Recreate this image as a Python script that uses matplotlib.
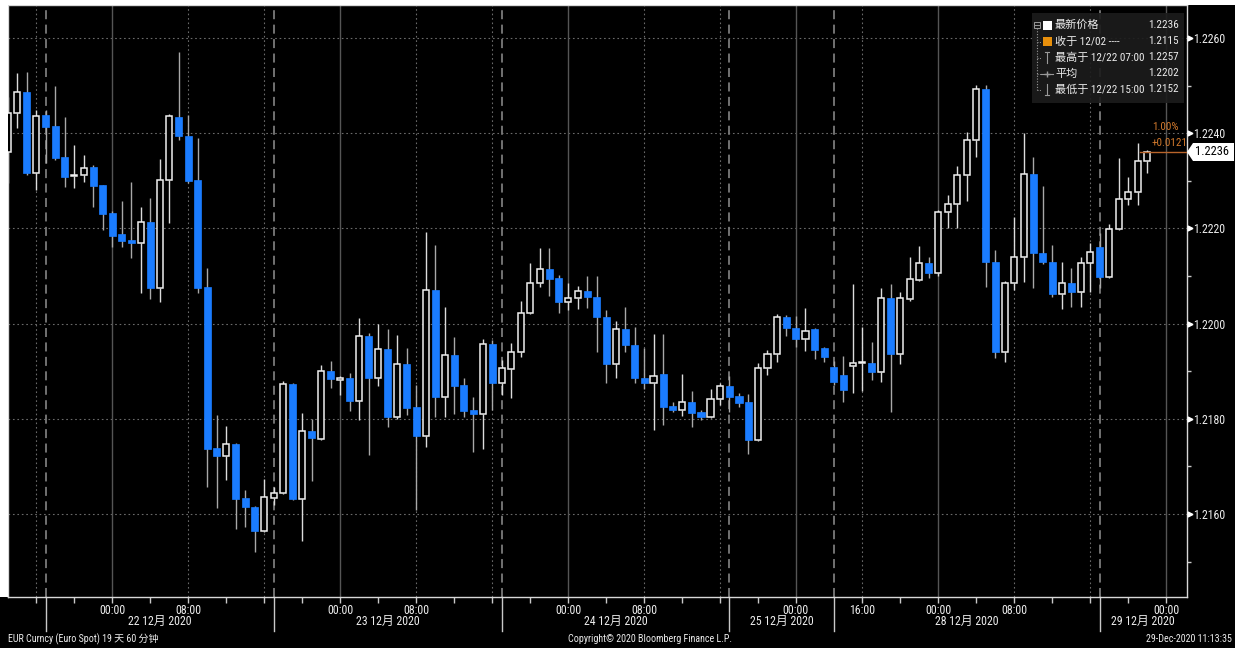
import matplotlib
matplotlib.use('Agg')
import matplotlib.pyplot as plt
import matplotlib.transforms as mtransforms
from matplotlib import font_manager
from matplotlib.patches import Rectangle, Polygon
from matplotlib.lines import Line2D

# ---------------- data (hourly EUR spot candles) ----------------
opens = [1.22361, 1.22443, 1.22487, 1.22316, 1.22439, 1.22415, 1.22350, 1.22310, 1.22312, 1.22329,
         1.22292, 1.22233, 1.22189, 1.22176, 1.22170, 1.22214, 1.22075, 1.22302, 1.22434, 1.22394,
         1.22302, 1.22077, 1.21739, 1.21722, 1.21748, 1.21634, 1.21615, 1.21565, 1.21634, 1.21645,
         1.21874, 1.21632, 1.21775, 1.21758, 1.21901, 1.21882, 1.21886, 1.21838, 1.21974, 1.21886,
         1.21947, 1.21804, 1.21916, 1.21825, 1.21764, 1.22071, 1.21846, 1.21935, 1.21872, 1.21819,
         1.21811, 1.21958, 1.21876, 1.21905, 1.21941, 1.22023, 1.22086, 1.22115, 1.22096, 1.22046,
         1.22054, 1.22069, 1.22056, 1.22014, 1.21916, 1.21989, 1.21956, 1.21886, 1.21876, 1.21895,
         1.21827, 1.21819, 1.21836, 1.21815, 1.21804, 1.21842, 1.21869, 1.21848, 1.21836, 1.21756,
         1.21907, 1.21937, 1.22014, 1.21991, 1.21968, 1.21989, 1.21949, 1.21909, 1.21893, 1.21911,
         1.21918, 1.21918, 1.21899, 1.22054, 1.21937, 1.22052, 1.22092, 1.22128, 1.22107, 1.22235,
         1.22252, 1.22312, 1.22386, 1.22493, 1.22130, 1.21941, 1.22086, 1.22140, 1.22314, 1.22149,
         1.22130, 1.22063, 1.22086, 1.22067, 1.22128, 1.22161, 1.22098, 1.22199, 1.22262, 1.22277,
         1.22342]
highs = [1.22476, 1.22527, 1.22529, 1.22449, 1.22449, 1.22499, 1.22434, 1.22376, 1.22355, 1.22334,
         1.22292, 1.22237, 1.22258, 1.22298, 1.22245, 1.22264, 1.22346, 1.22441, 1.22570, 1.22439,
         1.22390, 1.22117, 1.21809, 1.21785, 1.21750, 1.21651, 1.21617, 1.21674, 1.21657, 1.21880,
         1.21876, 1.21813, 1.21800, 1.21913, 1.21922, 1.21890, 1.21897, 1.22012, 1.21981, 1.21999,
         1.21989, 1.21977, 1.21949, 1.21872, 1.22193, 1.22166, 1.22035, 1.21972, 1.21886, 1.21846,
         1.21968, 1.21966, 1.21924, 1.21960, 1.22048, 1.22128, 1.22159, 1.22159, 1.22103, 1.22086,
         1.22079, 1.22100, 1.22100, 1.22029, 1.22006, 1.22035, 1.21993, 1.21949, 1.21979, 1.21979,
         1.21836, 1.21895, 1.21859, 1.21819, 1.21863, 1.21876, 1.21890, 1.21855, 1.21853, 1.21918,
         1.21945, 1.22021, 1.22019, 1.22016, 1.22033, 1.21991, 1.21951, 1.21922, 1.21932, 1.22084,
         1.21993, 1.21962, 1.22075, 1.22084, 1.22067, 1.22140, 1.22163, 1.22140, 1.22239, 1.22270,
         1.22331, 1.22403, 1.22502, 1.22502, 1.22155, 1.22090, 1.22224, 1.22401, 1.22350, 1.22289,
         1.22166, 1.22130, 1.22117, 1.22140, 1.22170, 1.22191, 1.22210, 1.22348, 1.22308, 1.22380,
         1.22365]
lows = [1.22296, 1.22411, 1.22312, 1.22281, 1.22338, 1.22344, 1.22287, 1.22285, 1.22298, 1.22245,
        1.22197, 1.22161, 1.22161, 1.22138, 1.22065, 1.22052, 1.22046, 1.22212, 1.22386, 1.22296,
        1.22065, 1.21657, 1.21613, 1.21672, 1.21569, 1.21573, 1.21520, 1.21563, 1.21619, 1.21643,
        1.21630, 1.21544, 1.21670, 1.21756, 1.21865, 1.21851, 1.21817, 1.21798, 1.21725, 1.21869,
        1.21783, 1.21800, 1.21809, 1.21609, 1.21741, 1.21804, 1.21804, 1.21811, 1.21804, 1.21731,
        1.21737, 1.21819, 1.21851, 1.21844, 1.21930, 1.22021, 1.22077, 1.22058, 1.22023, 1.22029,
        1.22031, 1.22033, 1.21941, 1.21876, 1.21886, 1.21941, 1.21876, 1.21863, 1.21777, 1.21788,
        1.21815, 1.21806, 1.21783, 1.21798, 1.21802, 1.21830, 1.21815, 1.21825, 1.21727, 1.21754,
        1.21893, 1.21920, 1.21974, 1.21951, 1.21943, 1.21926, 1.21920, 1.21872, 1.21836, 1.21855,
        1.21859, 1.21882, 1.21878, 1.21815, 1.21916, 1.22048, 1.22090, 1.22096, 1.22100, 1.22201,
        1.22201, 1.22258, 1.22350, 1.22077, 1.21928, 1.21920, 1.22071, 1.22088, 1.22075, 1.22126,
        1.22056, 1.22031, 1.22035, 1.22035, 1.22067, 1.22075, 1.22096, 1.22197, 1.22250, 1.22250,
        1.22316]
closes = [1.22443, 1.22487, 1.22316, 1.22436, 1.22413, 1.22348, 1.22308, 1.22312, 1.22327, 1.22289,
          1.22231, 1.22184, 1.22174, 1.22170, 1.22214, 1.22075, 1.22302, 1.22436, 1.22394, 1.22300,
          1.22075, 1.21737, 1.21722, 1.21748, 1.21632, 1.21615, 1.21565, 1.21636, 1.21645, 1.21874,
          1.21632, 1.21775, 1.21760, 1.21901, 1.21884, 1.21886, 1.21838, 1.21974, 1.21886, 1.21947,
          1.21804, 1.21916, 1.21823, 1.21764, 1.22071, 1.21846, 1.21935, 1.21869, 1.21817, 1.21811,
          1.21958, 1.21876, 1.21907, 1.21941, 1.22023, 1.22086, 1.22115, 1.22094, 1.22046, 1.22054,
          1.22069, 1.22056, 1.22014, 1.21916, 1.21989, 1.21956, 1.21886, 1.21876, 1.21890, 1.21825,
          1.21819, 1.21836, 1.21813, 1.21804, 1.21842, 1.21869, 1.21846, 1.21834, 1.21756, 1.21907,
          1.21937, 1.22014, 1.21991, 1.21968, 1.21985, 1.21945, 1.21930, 1.21878, 1.21861, 1.21918,
          1.21920, 1.21899, 1.22054, 1.21937, 1.22054, 1.22094, 1.22128, 1.22107, 1.22235, 1.22252,
          1.22312, 1.22386, 1.22493, 1.22130, 1.21941, 1.22086, 1.22140, 1.22314, 1.22149, 1.22130,
          1.22063, 1.22086, 1.22067, 1.22128, 1.22151, 1.22098, 1.22199, 1.22262, 1.22277, 1.22342,
          1.22360]

time_tick_idx = [11, 19, 35, 43, 59, 67, 83, 90, 98, 106, 122]
time_tick_labels = ['00:00', '08:00', '00:00', '08:00', '00:00', '08:00', '00:00', '16:00',
                    '00:00', '08:00', '00:00']
minor_tick_idx = [3, 7, 15, 23, 27, 31, 39, 47, 51, 55, 63, 71, 75, 79, 94, 102, 110, 114, 118]
session_idx = [4, 28, 52, 76, 87, 115]
day_labels = ['22 12月 2020', '23 12月 2020', '24 12月 2020', '25 12月 2020',
              '28 12月 2020', '29 12月 2020']
midnight_idx = [11, 35, 59, 83, 98, 122]
dotted_idx = [3, 19, 27, 43, 51, 67, 75, 90, 106, 114]
price_ticks = [1.2160, 1.2180, 1.2200, 1.2220, 1.2240, 1.2260]
price_minor = [1.2150, 1.2170, 1.2190, 1.2210, 1.2230, 1.2250]

legend_names = ['最新价格', '收于 12/02 ----', '最高于 12/22 07:00', '平均', '最低于 12/22 15:00']
legend_values = ['1.2236', '1.2115', '1.2257', '1.2202', '1.2152']
last_price = 1.2236
change_pct = '1.00%'
change_abs = '+0.0121'

# ---------------- fonts ----------------
avail = {f.name for f in font_manager.fontManager.ttflist}
narrow = next((f for f in ['Liberation Sans Narrow', 'Roboto Condensed', 'Liberation Sans']
               if f in avail), 'DejaVu Sans')
FAM = [narrow, 'Noto Sans CJK SC', 'DejaVu Sans']
plt.rcParams['font.family'] = FAM

W, H = 1235, 648
BLUE = '#1a7cff'
GRID = '#6a6a6a'
TXT = '#ececec'
FS = 8.6
LFS = 8.0

fig = plt.figure(figsize=(W / 100, H / 100), dpi=100, facecolor='black')


def fx(x):
    return x / W


def fy(y):
    return 1 - y / H


# white screenshot margins
fig.patches.append(Rectangle((0, fy(5)), 1, 5 / H, transform=fig.transFigure,
                             facecolor='white', edgecolor='none', zorder=0))
fig.patches.append(Rectangle((0, fy(597)), fx(7.5), 592 / H, transform=fig.transFigure,
                             facecolor='white', edgecolor='none', zorder=0))

L_, R_, T_, B_ = 8, 1186.5, 5, 597
ax = fig.add_axes([fx(L_), fy(B_), fx(R_ - L_), (B_ - T_) / H])
ax.set_facecolor('black')
px_per_bar = 9.496
x0 = 7.8
xmin = (L_ - x0) / px_per_bar
xmax = (R_ - x0) / px_per_bar
ax.set_xlim(xmin, xmax)
pp = 0.002 / 95.2
ax.set_ylim(1.2260 - (B_ - 38) * pp, 1.2260 + (38 - T_) * pp)

# grid lines
for p in price_ticks:
    ax.axhline(p, color=GRID, lw=0.8, ls=(0, (1.5, 2.5)), zorder=1)
for i in midnight_idx:
    ax.axvline(i, color='#555555', lw=1.0, zorder=1)
for i in dotted_idx:
    ax.axvline(i, color=GRID, lw=0.8, ls=(0, (1.5, 2.5)), zorder=1)
for i in session_idx:
    ax.axvline(i, color='#7a7a7a', lw=1.3, ls=(0, (5, 3)), zorder=1)

# candles
bw = 0.74
for i, (o, h, l, c) in enumerate(zip(opens, highs, lows, closes)):
    top, bot = max(o, c), min(o, c)
    if c >= o:
        ax.vlines(i, top, h, color='#dcdcdc', lw=1.0, zorder=2)
        ax.vlines(i, l, bot, color='#dcdcdc', lw=1.0, zorder=2)
        ax.bar(i, max(top - bot, 0.00002), bottom=bot, width=bw - 0.1, facecolor='black',
               edgecolor='#f0f0f0', lw=1.1, zorder=3)
    else:
        ax.vlines(i, l, h, color='#a8a8a8', lw=1.0, zorder=2)
        ax.bar(i, max(top - bot, 0.00002), bottom=bot, width=bw, facecolor=BLUE,
               edgecolor=BLUE, lw=0.5, zorder=3)

# last price line
n = len(closes)
ax.plot([n - 1.8, xmax], [last_price, last_price], color='#b8642a', lw=1.0, zorder=4)

# frame
for s in ax.spines.values():
    s.set_color('#d8d8d8')
    s.set_linewidth(1.0)

# x axis ticks
ax.set_xticks(time_tick_idx)
ax.set_xticklabels(time_tick_labels)
ax.set_xticks(minor_tick_idx, minor=True)
ax.tick_params(axis='x', which='both', length=4, width=1, color='#c8c8c8', direction='out',
               labelcolor=TXT, labelsize=FS, pad=1.2)

# session separator ticks below the axis
tr = mtransforms.blended_transform_factory(ax.transData, fig.transFigure)
for i in session_idx:
    ax.add_line(Line2D([i, i], [fy(B_), fy(631)], transform=tr, color='#c8c8c8', lw=1.0,
                       clip_on=False))
bounds = session_idx + [xmax]
for k, lab in enumerate(day_labels):
    ax.text((bounds[k] + bounds[k + 1]) / 2, fy(621.5), lab, transform=tr, ha='center',
            va='center', color=TXT, fontsize=FS, family=FAM)

# y axis on the right
ax.yaxis.tick_right()
ax.set_yticks(price_ticks)
ax.set_yticklabels([f'{p:.4f}' for p in price_ticks])
ax.set_yticks(price_minor, minor=True)
ax.tick_params(axis='y', which='major', length=0, pad=5, labelcolor=TXT, labelsize=FS)
ax.tick_params(axis='y', which='minor', length=3, width=1, color='#c8c8c8', direction='out')
try_tr = mtransforms.blended_transform_factory(fig.transFigure, ax.transData)
for p in price_ticks:
    ax.plot([fx(1189.5)], [p], marker='>', markersize=3.5, color='white', transform=try_tr,
            clip_on=False, zorder=6)

# last price label box
box = [(1187, 152), (1193, 143), (1234, 143), (1234, 161), (1193, 161)]
fig.patches.append(Polygon([(fx(a), fy(b)) for a, b in box], closed=True,
                           transform=fig.transFigure, facecolor='white', edgecolor='none',
                           zorder=5))
fig.text(fx(1212.5), fy(152), f'{last_price:.4f}', color='black', fontsize=9, ha='center',
         va='center', family=FAM, zorder=6)

# change annotation
fig.text(fx(1152), fy(127), change_pct, color='#d0782c', fontsize=LFS, ha='left', va='center',
         family=FAM, zorder=7)
fig.text(fx(1152), fy(143), change_abs, color='#d0782c', fontsize=LFS, ha='left', va='center',
         family=FAM, zorder=7)

# legend box
fig.patches.append(Rectangle((fx(1032), fy(103)), fx(1184 - 1032), (103 - 13) / H,
                             transform=fig.transFigure, facecolor='#1c1c1c', alpha=0.92,
                             edgecolor='none', zorder=7))
rows = [25, 41.5, 57.5, 73.5, 89.5]
icon = '#9a9a9a'
fig.add_artist(Line2D([fx(1037), fx(1037)], [fy(28), fy(90)], color=icon, lw=0.8,
                      ls=(0, (1, 1.5)), zorder=8))
fig.add_artist(Rectangle((fx(1034), fy(28)), fx(6), 6 / H, transform=fig.transFigure,
                         facecolor='none', edgecolor=icon, lw=0.7, zorder=8))
fig.add_artist(Line2D([fx(1035), fx(1039)], [fy(25), fy(25)], color=icon, lw=0.7, zorder=8))
for y in rows[1:]:
    fig.add_artist(Line2D([fx(1037), fx(1041)], [fy(y), fy(y)], color=icon, lw=0.7,
                          ls=(0, (1, 1.5)), zorder=8))
fig.patches.append(Rectangle((fx(1043), fy(rows[0] + 4.5)), fx(9), 9 / H,
                             transform=fig.transFigure, facecolor='white', edgecolor='none',
                             zorder=8))
fig.patches.append(Rectangle((fx(1043), fy(rows[1] + 4.5)), fx(9), 9 / H,
                             transform=fig.transFigure, facecolor='#e8900c', edgecolor='none',
                             zorder=8))
# high icon
fig.add_artist(Line2D([fx(1047), fx(1047)], [fy(52), fy(63)], color=icon, lw=0.8, zorder=8))
fig.add_artist(Line2D([fx(1045), fx(1049)], [fy(52), fy(52)], color=icon, lw=0.8, zorder=8))
# average icon
fig.add_artist(Line2D([fx(1041), fx(1053)], [fy(73.5), fy(73.5)], color=icon, lw=0.8,
                      zorder=8))
fig.add_artist(Line2D([fx(1047)], [fy(73.5)], marker='+', markersize=4, color=icon,
                      zorder=8))
# low icon
fig.add_artist(Line2D([fx(1047), fx(1047)], [fy(84), fy(95)], color=icon, lw=0.8, zorder=8))
fig.add_artist(Line2D([fx(1045), fx(1049)], [fy(95), fy(95)], color=icon, lw=0.8, zorder=8))
for y, name, val in zip(rows, legend_names, legend_values):
    fig.text(fx(1055), fy(y), name, color=TXT, fontsize=LFS, ha='left', va='center',
             family=FAM, zorder=9)
    fig.text(fx(1179), fy(y), val, color=TXT, fontsize=LFS, ha='right', va='center',
             family=FAM, zorder=9)

# footer
fig.text(fx(8), fy(639), 'EUR Curncy (Euro Spot) 19 天 60 分钟', color=TXT, fontsize=7.2,
         ha='left', va='center', family=FAM)
fig.text(fx(650), fy(639), 'Copyright© 2020 Bloomberg Finance L.P.', color=TXT, fontsize=7.2,
         ha='center', va='center', family=FAM)
fig.text(fx(1232), fy(639), '29-Dec-2020 11:13:35', color=TXT, fontsize=7.2, ha='right',
         va='center', family=FAM)

fig.savefig('out.png', dpi=100, facecolor='black')
